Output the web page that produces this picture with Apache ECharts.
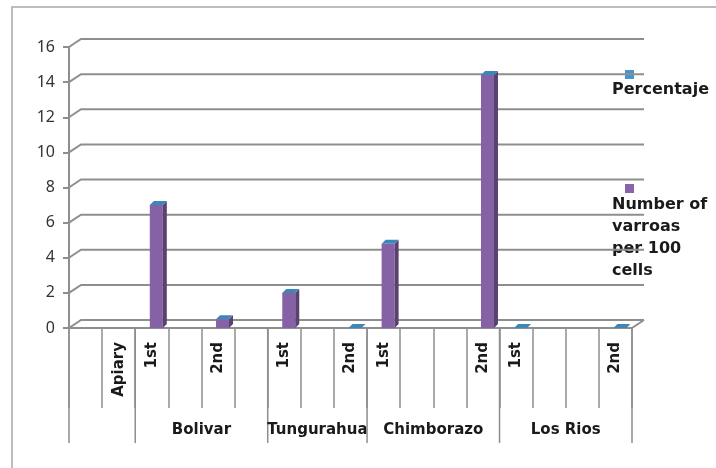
<!DOCTYPE html>
<html>
<head>
<meta charset="utf-8" />
<script type="text/javascript" src="https://cdn.jsdelivr.net/npm/echarts@6/dist/echarts.min.js"></script>
<title></title>
<style>
  html, body { margin: 0; padding: 0; background: #fff; }
</style>
</head>
<body>
<div id="chartmain" style="width:716px; height:468px;"></div>
<script type="text/javascript">
// slots along the floor (one per column position)
var slots = ['', 'Apiary', '1st', '', '2nd', '', '1st', '', '2nd', '1st', '', '', '2nd', '1st', '', '', '2nd'];
var varroas = [null, null, 7, null, 0.5, null, 2, null, 0, 4.8, null, null, 14.4, 0, null, null, 0];
var percentaje = [null, null, 0, null, 0, null, 0, null, 0, 0, null, null, 0, 0, null, null, 0];
// second row of the category axis
var groups = ['', 'Bolivar', 'Tungurahua', 'Chimborazo', 'Los Rios'];
var groupSpans = [2, 4, 3, 4, 4];
var yTicks = [0, 2, 4, 6, 8, 10, 12, 14, 16];

var gridColor = '#8e8e8e';
var textColor = '#1a1a1a';
var DX = 12, DY = -8;   // depth of the 3d walls
var BD = 4;             // depth of a column

var barData = [], pctData = [];
for (var i = 0; i < slots.length; i++) {
  if (varroas[i] != null) {
    barData.push([i, varroas[i]]);
    pctData.push([i, varroas[i] + percentaje[i], varroas[i]]);
  }
}
var groupData = [];
var start = 0;
for (var g = 0; g < groups.length; g++) {
  groupData.push([start, 0, groupSpans[g], g]);
  start += groupSpans[g];
}

function renderWall(params, api) {
  var cs = params.coordSys;
  var y = api.coord([0, api.value(1)])[1];
  var x0 = cs.x, x1 = cs.x + cs.width;
  var pts = [[x0, y], [x0 + DX, y + DY], [x1 + DX, y + DY]];
  var children = [{
    type: 'polyline',
    shape: { points: pts },
    style: { stroke: gridColor, lineWidth: 2, fill: null }
  }];
  if (api.value(1) === 0) {
    children.push({
      type: 'line',
      shape: { x1: x1, y1: y, x2: x1 + DX, y2: y + DY },
      style: { stroke: gridColor, lineWidth: 2 }
    });
  }
  return { type: 'group', children: children };
}

function renderBar(params, api) {
  var base = api.coord([api.value(0), 0]);
  var top = api.coord([api.value(0), api.value(1)]);
  var x0 = base[0] - 2, x1 = base[0] + 11;
  return {
    type: 'group',
    children: [{
      type: 'rect',
      shape: { x: x0, y: top[1], width: x1 - x0, height: base[1] - top[1] },
      style: { fill: '#8562a6' }
    }, {
      type: 'polygon',
      shape: { points: [[x1, top[1]], [x1 + BD, top[1] - BD], [x1 + BD, base[1] - BD], [x1, base[1]]] },
      style: { fill: '#5b416f' }
    }]
  };
}

function renderTop(params, api) {
  var top = api.coord([api.value(0), api.value(1)]);
  var x0 = top[0] - 2, x1 = top[0] + 11;
  return {
    type: 'polygon',
    shape: { points: [[x0, top[1]], [x1, top[1]], [x1 + BD, top[1] - BD], [x0 + BD, top[1] - BD]] },
    style: { fill: '#3f86b8' }
  };
}

function renderGroup(params, api) {
  var first = api.value(0), span = api.value(2), idx = api.value(3);
  var band = api.size([1, 0])[0];
  var p = api.coord([first, 0]);
  var xl = p[0] - band / 2;
  var xr = xl + band * span;
  var yb = p[1];
  var children = [{
    type: 'line',
    shape: { x1: xl, y1: yb, x2: xl, y2: yb + 115 },
    style: { stroke: gridColor, lineWidth: 1.5 }
  }, {
    type: 'text',
    style: {
      x: (xl + xr) / 2, y: yb + 102, text: groups[idx],
      align: 'center', verticalAlign: 'middle',
      font: 'bold 15px "DejaVu Sans"', fill: textColor
    }
  }];
  if (idx === groups.length - 1) {
    children.push({
      type: 'line',
      shape: { x1: xr, y1: yb, x2: xr, y2: yb + 115 },
      style: { stroke: gridColor, lineWidth: 1.5 }
    });
  }
  return { type: 'group', children: children };
}

var option = {
  animation: false,
  grid: { left: 69, right: 84, top: 47, bottom: 140 },
  xAxis: {
    type: 'category',
    data: slots,
    axisLine: { lineStyle: { color: gridColor, width: 2 } },
    axisTick: { show: true, interval: 0, length: 80, lineStyle: { color: gridColor, width: 1.5 } },
    axisLabel: {
      interval: 0, rotate: 90, margin: 14,
      color: textColor, fontFamily: 'DejaVu Sans', fontWeight: 'bold', fontSize: 15
    },
    splitLine: { show: false }
  },
  yAxis: {
    type: 'value',
    min: 0, max: 16, interval: 2,
    axisLine: { show: true, lineStyle: { color: gridColor, width: 2 } },
    axisTick: { show: true, length: 6, lineStyle: { color: gridColor, width: 2 } },
    axisLabel: { margin: 14, color: '#333', fontFamily: 'Noto Sans', fontSize: 16 },
    splitLine: { show: false }
  },
  graphic: [{
    type: 'rect',
    shape: { x: 12, y: 7, width: 720, height: 480 },
    style: { fill: 'none', stroke: '#a8a8a8', lineWidth: 1.5 },
    silent: true
  }, {
    type: 'rect',
    shape: { x: 625, y: 70, width: 9, height: 9 },
    style: { fill: '#4596cc' }
  }, {
    type: 'text',
    style: { x: 612, y: 90, text: 'Percentaje', verticalAlign: 'middle', font: 'bold 16px "DejaVu Sans"', fill: textColor }
  }, {
    type: 'rect',
    shape: { x: 625, y: 184, width: 9, height: 9 },
    style: { fill: '#8a64aa' }
  }, {
    type: 'text',
    style: {
      x: 612, y: 194, text: 'Number of\nvarroas\nper 100\ncells',
      lineHeight: 22, verticalAlign: 'top', font: 'bold 16px "DejaVu Sans"', fill: textColor
    }
  }],
  series: [{
    name: 'walls',
    type: 'custom',
    renderItem: renderWall,
    data: yTicks.map(function (v) { return [0, v]; }),
    silent: true,
    z: 1
  }, {
    name: 'Number of varroas per 100 cells',
    type: 'custom',
    renderItem: renderBar,
    data: barData,
    z: 3
  }, {
    name: 'Percentaje',
    type: 'custom',
    renderItem: renderTop,
    data: pctData,
    z: 4
  }, {
    name: 'groups',
    type: 'custom',
    renderItem: renderGroup,
    data: groupData,
    silent: true,
    z: 2
  }]
};

var myChart = echarts.init(document.getElementById('chartmain'));
myChart.setOption(option);

window.addEventListener('resize', function () {
  myChart.resize();
});
</script>
</body>
</html>
